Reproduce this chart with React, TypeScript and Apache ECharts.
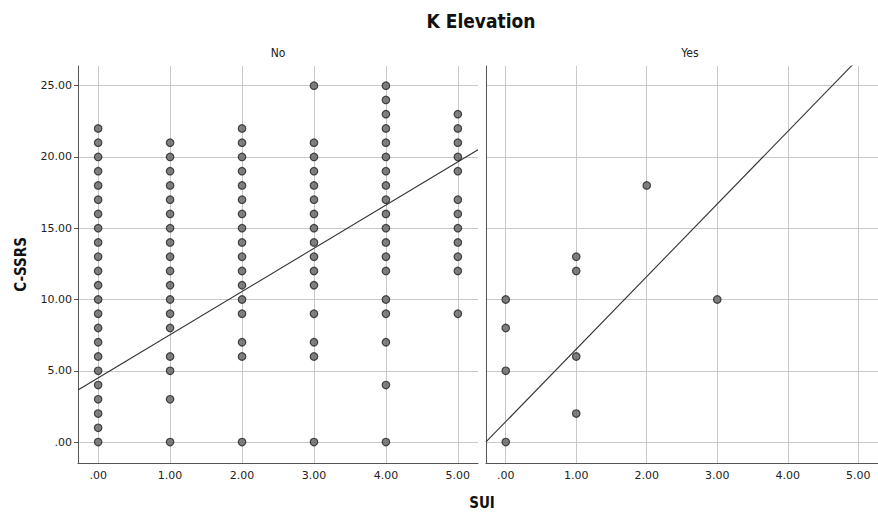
import React, { useEffect, useRef } from "react";
import * as echarts from "echarts";

// ---- data (C-SSRS values observed at each SUI level) ----
const suiLevels = [0, 1, 2, 3, 4, 5];
const noSui0 = [0, 1, 2, 3, 4, 5, 6, 7, 8, 9, 10, 11, 12, 13, 14, 15, 16, 17, 18, 19, 20, 21, 22];
const noSui1 = [0, 3, 5, 6, 8, 9, 10, 11, 12, 13, 14, 15, 16, 17, 18, 19, 20, 21];
const noSui2 = [0, 6, 7, 9, 10, 11, 12, 13, 14, 15, 16, 17, 18, 19, 20, 21, 22];
const noSui3 = [0, 6, 7, 9, 11, 12, 13, 14, 15, 16, 17, 18, 19, 20, 21, 25];
const noSui4 = [0, 4, 7, 9, 10, 12, 13, 14, 15, 16, 17, 18, 19, 20, 21, 22, 23, 24, 25];
const noSui5 = [9, 12, 13, 14, 15, 16, 17, 19, 20, 21, 22, 23];
const yesSui0 = [0, 5, 8, 10];
const yesSui1 = [2, 6, 12, 13];
const yesSui2 = [18];
const yesSui3 = [10];
const yesSui4: number[] = [];
const yesSui5: number[] = [];

const noColumns = [noSui0, noSui1, noSui2, noSui3, noSui4, noSui5];
const yesColumns = [yesSui0, yesSui1, yesSui2, yesSui3, yesSui4, yesSui5];

// fitted linear regression lines (intercept, slope)
const noFit = [4.5, 3.03];
const yesFit = [1.43, 5.09];

const xTicks = [0, 1, 2, 3, 4, 5];
const yTicks = [0, 5, 10, 15, 20, 25];
const panelLabels = ["No", "Yes"];

const X_MIN = -0.28;
const X_MAX = 5.28;
const Y_MIN = -1.47;
const Y_MAX = 26.38;

function toPoints(cols: number[][]) {
  const pts: number[][] = [];
  cols.forEach((vals, i) => vals.forEach((v) => pts.push([suiLevels[i], v])));
  return pts;
}

function fitLine(fit: number[]) {
  return [
    [X_MIN, fit[0] + fit[1] * X_MIN],
    [X_MAX, fit[0] + fit[1] * X_MAX],
  ];
}

const fmt = (v: number) => (v === 0 ? ".00" : v.toFixed(2));
const FONT = "'DejaVu Sans', sans-serif";
const TITLE_FONT = "'DejaVu Sans Condensed', 'DejaVu Sans', sans-serif";

export default function App() {
  const ref = useRef<HTMLDivElement>(null);
  useEffect(() => {
    if (!ref.current) return;
    const chart = echarts.init(ref.current, undefined, { renderer: "svg" });

    const xAxisBase = (gridIndex: number) => ({
      type: "value",
      gridIndex,
      min: X_MIN,
      max: X_MAX,
      axisLine: { show: true, onZero: false, lineStyle: { color: "#555", width: 1 } },
      axisTick: { show: false, customValues: xTicks },
      axisLabel: {
        customValues: xTicks,
        formatter: fmt,
        color: "#222",
        fontSize: 11,
        fontFamily: FONT,
        margin: 7,
      },
      splitLine: { show: true, lineStyle: { color: "#c9c9c9", width: 1 } },
    });
    const yAxisBase = (gridIndex: number, showLabels: boolean) => ({
      type: "value",
      gridIndex,
      min: Y_MIN,
      max: Y_MAX,
      name: showLabels ? "C-SSRS" : "",
      nameLocation: "middle",
      nameGap: 50,
      nameRotate: 90,
      nameTextStyle: { fontSize: 15, fontWeight: "bold", color: "#111", fontFamily: TITLE_FONT },
      axisLine: { show: true, onZero: false, lineStyle: { color: "#555", width: 1 } },
      axisTick: { show: showLabels, length: 4, customValues: yTicks, lineStyle: { color: "#555" } },
      axisLabel: {
        show: showLabels,
        customValues: yTicks,
        formatter: fmt,
        color: "#222",
        fontSize: 11,
        fontFamily: FONT,
        margin: 6,
      },
      splitLine: { show: true, lineStyle: { color: "#c9c9c9", width: 1 } },
    });

    const scatterStyle = {
      color: "#626262",
      borderColor: "#222",
      borderWidth: 1.2,
    };

    chart.setOption({
      animation: false,
      backgroundColor: "#fff",
      grid: [
        { left: 78, top: 66, width: 400, height: 397 },
        { left: 486, top: 66, width: 400, height: 397 },
      ],
      xAxis: [xAxisBase(0), xAxisBase(1)],
      yAxis: [yAxisBase(0, true), yAxisBase(1, false)],
      graphic: [
        {
          type: "text",
          x: 481,
          y: 21,
          style: {
            text: "K Elevation",
            font: `bold 19px ${TITLE_FONT}`,
            fill: "#111",
            textAlign: "center",
            textVerticalAlign: "middle",
          },
        },
        {
          type: "text",
          x: 278,
          y: 53,
          style: {
            text: panelLabels[0],
            font: `12px ${TITLE_FONT}`,
            fill: "#222",
            textAlign: "center",
            textVerticalAlign: "middle",
          },
        },
        {
          type: "text",
          x: 690,
          y: 53,
          style: {
            text: panelLabels[1],
            font: `12px ${TITLE_FONT}`,
            fill: "#222",
            textAlign: "center",
            textVerticalAlign: "middle",
          },
        },
        {
          type: "text",
          x: 482,
          y: 503,
          style: {
            text: "SUI",
            font: `bold 15px ${TITLE_FONT}`,
            fill: "#111",
            textAlign: "center",
            textVerticalAlign: "middle",
          },
        },
      ],
      series: [
        {
          type: "line",
          xAxisIndex: 0,
          yAxisIndex: 0,
          data: fitLine(noFit),
          symbol: "none",
          clip: true,
          lineStyle: { color: "#333", width: 1.1 },
          silent: true,
          z: 3,
        },
        {
          type: "line",
          xAxisIndex: 1,
          yAxisIndex: 1,
          data: fitLine(yesFit),
          symbol: "none",
          clip: true,
          lineStyle: { color: "#333", width: 1.1 },
          silent: true,
          z: 3,
        },
        {
          type: "scatter",
          xAxisIndex: 0,
          yAxisIndex: 0,
          data: toPoints(noColumns),
          symbolSize: 7.5,
          itemStyle: scatterStyle,
          z: 4,
        },
        {
          type: "scatter",
          xAxisIndex: 1,
          yAxisIndex: 1,
          data: toPoints(yesColumns),
          symbolSize: 7.5,
          itemStyle: scatterStyle,
          z: 4,
        },
      ],
    });
    return () => chart.dispose();
  }, []);

  return (
    <div
      ref={ref}
      style={{ position: "fixed", left: 0, top: 0, width: 878, height: 514, background: "#fff" }}
    />
  );
}
